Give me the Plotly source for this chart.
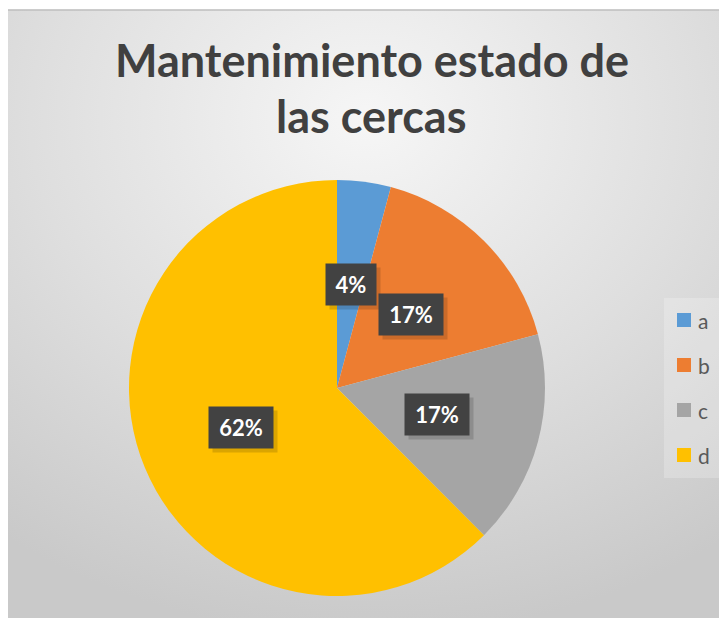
import math, base64
import plotly.graph_objects as go

# ---- data ----
categories = ["a", "b", "c", "d"]
values = [4.17, 16.67, 16.67, 62.49]
pct_labels = ["4%", "17%", "17%", "62%"]
colors = ["#5B9BD5", "#ED7D31", "#A5A5A5", "#FFC000"]
title_lines = ["Mantenimiento estado de", "las cercas"]

# page has an 8px body margin; work in reference-pixel coordinates
OFF = 8
W, H = 727 - OFF, 618 - OFF
def px(x): return (x - OFF) / W
def py(y): return 1 - (y - OFF) / H

# pie geometry (reference pixels)
cx, cy, R = 337, 388, 208

# background radial gradient (svg data uri)
svg = '''<svg xmlns="http://www.w3.org/2000/svg" width="720" height="609" viewBox="0 0 720 609" preserveAspectRatio="none">
<defs><radialGradient id="g" cx="0.5" cy="0.18" r="0.85" fx="0.5" fy="0.18">
<stop offset="0" stop-color="#f6f6f6"/><stop offset="0.55" stop-color="#dedede"/><stop offset="1" stop-color="#c9c9c9"/>
</radialGradient></defs>
<rect x="0" y="0" width="720" height="609" fill="url(#g)"/></svg>'''
src = "data:image/svg+xml;base64," + base64.b64encode(svg.encode()).decode()

fig = go.Figure()
fig.add_trace(go.Pie(
    labels=categories, values=values, sort=False, direction="clockwise", rotation=0,
    marker=dict(colors=colors, line=dict(width=0)),
    textinfo="none", hoverinfo="label+percent", showlegend=False,
    domain=dict(x=[px(cx - R), px(cx + R)], y=[py(cy + R), py(cy - R)]),
))

annotations = []
total = sum(values)
cum = 0
for v, lab in zip(values, pct_labels):
    theta = 2 * math.pi * (cum + v / 2) / total
    cum += v
    lx = cx + 0.5 * R * math.sin(theta)
    ly = cy - 0.5 * R * math.cos(theta)
    w = 14 * len(lab) + 14
    common = dict(x=px(lx), y=py(ly), xref="paper", yref="paper", showarrow=False,
                  width=w, height=33, borderpad=4, xanchor="center", yanchor="middle")
    annotations.append(dict(text=" ", bgcolor="rgba(0,0,0,0.14)", xshift=4, yshift=-4,
                            font=dict(size=22, color="rgba(0,0,0,0)"), **common))
    annotations.append(dict(text=f"<b>{lab}</b>", bgcolor="#424242",
                            font=dict(family="Lato", size=22, color="white"), **common))

# title (two lines)
for i, line in enumerate(title_lines):
    annotations.append(dict(text=f"<b>{line}</b>", x=px(372), y=py(78 + 56 * i), xref="paper", yref="paper",
                            showarrow=False, xanchor="center", yanchor="bottom", yshift=-11,
                            font=dict(family="Lato", size=45, color="#404040")))

shapes = []
# chart border
shapes.append(dict(type="rect", xref="paper", yref="paper", x0=px(7), x1=px(735), y0=py(625), y1=py(10),
                   line=dict(color="#bfbfbf", width=1.5), fillcolor="rgba(0,0,0,0)", layer="above"))
# legend box
shapes.append(dict(type="rect", xref="paper", yref="paper", x0=px(664), x1=px(720), y0=py(478), y1=py(298),
                   line=dict(width=0), fillcolor="rgba(255,255,255,0.22)", layer="below"))
for i, (cat, col) in enumerate(zip(categories, colors)):
    yc = 320 + 45 * i
    shapes.append(dict(type="rect", xref="paper", yref="paper", x0=px(677), x1=px(691),
                       y0=py(yc + 7), y1=py(yc - 7), line=dict(width=0), fillcolor=col))
    annotations.append(dict(text=cat, x=px(696), y=py(yc), xref="paper", yref="paper", showarrow=False,
                            xanchor="left", yanchor="middle",
                            font=dict(family="Lato", size=21, color="#595959")))

fig.update_layout(
    width=W, height=H, margin=dict(l=0, r=0, t=0, b=0),
    paper_bgcolor="white", plot_bgcolor="white",
    images=[dict(source=src, xref="paper", yref="paper", x=px(7), y=py(9.5), sizex=720 / W, sizey=609 / H,
                 xanchor="left", yanchor="top", sizing="stretch", layer="below")],
    shapes=shapes, annotations=annotations, showlegend=False,
)
fig.write_html("out.html")
